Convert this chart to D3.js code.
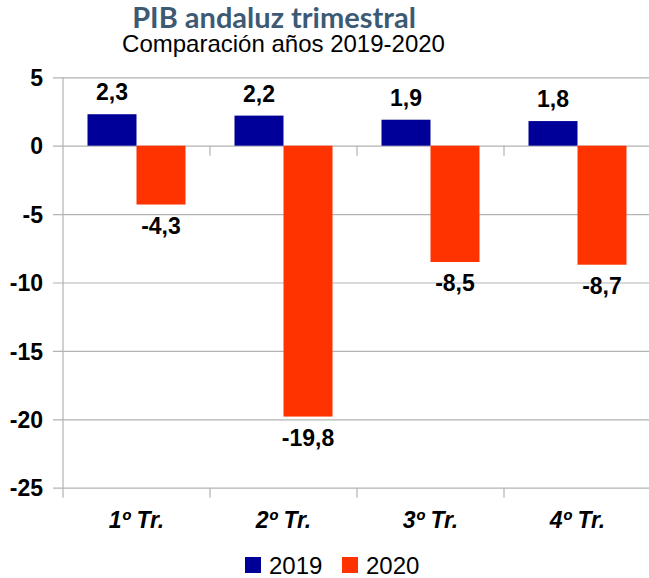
<!DOCTYPE html>
<meta charset="utf-8">
<title>PIB andaluz trimestral</title>
<style>
    body { margin: 0; background: #fff; }
    svg { display: block; }
    .tick-label { font-family: "Liberation Sans", Arial, sans-serif; font-weight: bold; font-size: 23px; fill: #000; }
    .cat-label { font-family: "Liberation Sans", Arial, sans-serif; font-weight: bold; font-style: italic; font-size: 23px; fill: #000; }
    .val-label { font-family: "Liberation Sans", Arial, sans-serif; font-weight: bold; font-size: 23px; fill: #000; }
    .legend-label { font-family: "Liberation Sans", Arial, sans-serif; font-size: 24px; fill: #000; }
</style>
<body>
<div id="chart"></div>
<script src="https://d3js.org/d3.v7.min.js"></script>
<script>
    // data
    var quarters = ["1º Tr.", "2º Tr.", "3º Tr.", "4º Tr."];
    var years = ["2019", "2020"];
    var values2019 = [2.3, 2.2, 1.9, 1.8];
    var values2020 = [-4.3, -19.8, -8.5, -8.7];
    var yTicks = [5, 0, -5, -10, -15, -20, -25];
    var colors = ["#000099", "#ff3300"];

    var W = 649, H = 578;
    var plot = { left: 63, right: 651, top: 77.3, bottom: 487.7 };

    var svg = d3.select("#chart").append("svg")
        .attr("width", W)
        .attr("height", H);

    // scales
    var x = d3.scaleBand().domain(quarters).range([plot.left, plot.right]).padding(0);
    var x1 = d3.scaleBand().domain(years).range([0, x.bandwidth()]).paddingInner(0).paddingOuter(0.5);
    var y = d3.scaleLinear().domain([-25, 5]).range([plot.bottom, plot.top]);
    var color = d3.scaleOrdinal().domain(years).range(colors);

    // title
    svg.append("text")
        .attr("x", 274).attr("y", 28)
        .attr("text-anchor", "middle")
        .style("font-family", "Lato, 'Open Sans', sans-serif")
        .style("font-weight", "bold")
        .style("font-size", "29px")
        .style("fill", "#3d5a75")
        .text("PIB andaluz trimestral");

    svg.append("text")
        .attr("x", 283.5).attr("y", 52)
        .attr("text-anchor", "middle")
        .style("font-family", "'Liberation Sans', Arial, sans-serif")
        .style("font-size", "24px")
        .style("fill", "#000")
        .text("Comparación años 2019-2020");

    // gridlines + y tick labels
    var yAxis = d3.axisLeft(y).tickValues(yTicks)
        .tickSize(-(plot.right - plot.left))
        .tickSizeOuter(0)
        .tickPadding(0)
        .tickFormat(d3.format("d"));
    var gy = svg.append("g")
        .attr("transform", "translate(" + plot.left + ",0)")
        .call(yAxis);
    gy.select(".domain").remove();
    gy.selectAll(".tick line").attr("x1", -10).attr("stroke", "#b3b3b3").attr("stroke-width", 1.2);
    gy.selectAll(".tick text")
        .attr("class", "tick-label")
        .attr("x", -20)
        .attr("dy", "0.36em")
        .text(function (d) { return d3.format("d")(d).replace("−", "-"); });

    // y axis line
    svg.append("line")
        .attr("x1", plot.left).attr("x2", plot.left)
        .attr("y1", plot.top).attr("y2", plot.bottom + 10)
        .attr("stroke", "#b3b3b3").attr("stroke-width", 1.2);

    // category boundary ticks (bottom and at zero)
    var bounds = quarters.map(function (q) { return x(q); }).concat([x(quarters[quarters.length - 1]) + x.bandwidth()]);
    svg.append("g").selectAll("line")
        .data(bounds.slice(1))
        .join("line")
        .attr("x1", function (d) { return d; }).attr("x2", function (d) { return d; })
        .attr("y1", plot.bottom).attr("y2", plot.bottom + 10)
        .attr("stroke", "#b3b3b3").attr("stroke-width", 1.2);
    svg.append("g").selectAll("line")
        .data(bounds.slice(1))
        .join("line")
        .attr("x1", function (d) { return d; }).attr("x2", function (d) { return d; })
        .attr("y1", y(0)).attr("y2", y(0) + 10)
        .attr("stroke", "#b3b3b3").attr("stroke-width", 1.2);

    // bars
    var rows = quarters.map(function (q, i) {
        return { q: q, vals: [{ year: "2019", v: values2019[i] }, { year: "2020", v: values2020[i] }] };
    });

    var groups = svg.append("g").selectAll("g")
        .data(rows)
        .join("g")
        .attr("transform", function (d) { return "translate(" + x(d.q) + ",0)"; });

    groups.selectAll("rect")
        .data(function (d) { return d.vals; })
        .join("rect")
        .attr("x", function (d) { return x1(d.year); })
        .attr("width", x1.bandwidth())
        .attr("y", function (d) { return y(Math.max(0, d.v)); })
        .attr("height", function (d) { return Math.abs(y(d.v) - y(0)); })
        .attr("fill", function (d) { return color(d.year); });

    var fmt = function (v) { return d3.format(".1f")(v).replace("−", "-").replace(".", ","); };

    groups.selectAll("text")
        .data(function (d) { return d.vals; })
        .join("text")
        .attr("class", "val-label")
        .attr("text-anchor", "middle")
        .attr("x", function (d) { return x1(d.year) + x1.bandwidth() / 2; })
        .attr("y", function (d) { return d.v >= 0 ? y(d.v) - 14 : y(d.v) + 29; })
        .text(function (d) { return fmt(d.v); });

    // category labels
    svg.append("g").selectAll("text")
        .data(quarters)
        .join("text")
        .attr("class", "cat-label")
        .attr("text-anchor", "middle")
        .attr("x", function (d) { return x(d) + x.bandwidth() / 2; })
        .attr("y", 528)
        .text(function (d) { return d; });

    // legend
    var legendX = [245, 342];
    var lg = svg.append("g").selectAll("g")
        .data(years)
        .join("g")
        .attr("transform", function (d, i) { return "translate(" + legendX[i] + ",557)"; });
    lg.append("rect")
        .attr("width", 16).attr("height", 16)
        .attr("fill", function (d) { return color(d); });
    lg.append("text")
        .attr("class", "legend-label")
        .attr("x", 24).attr("y", 17)
        .text(function (d) { return d; });
</script>
</body>
